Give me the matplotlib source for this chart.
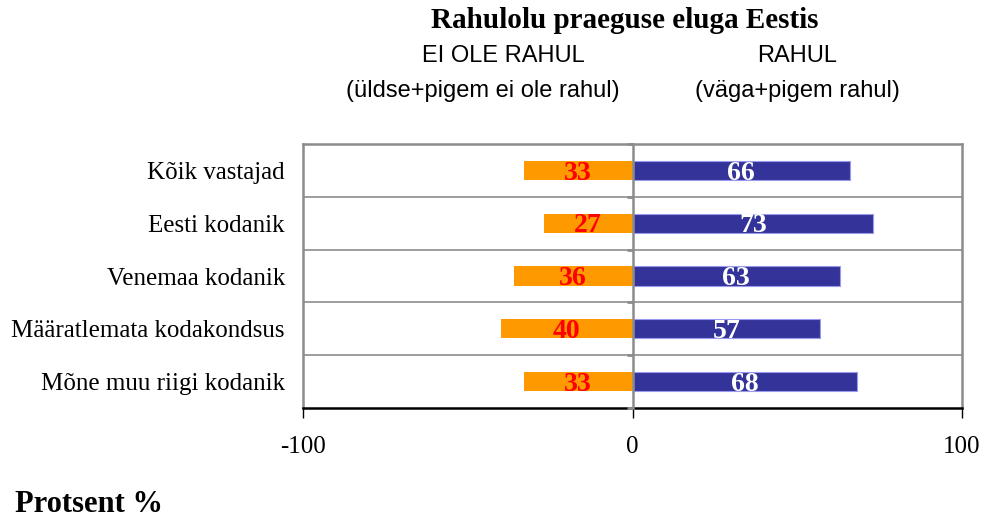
import matplotlib
matplotlib.use("Agg")
import matplotlib.pyplot as plt
import numpy as np

categories = ["Kõik vastajad", "Eesti kodanik", "Venemaa kodanik",
              "Määratlemata kodakondsus", "Mõne muu riigi kodanik"]
not_satisfied = [33, 27, 36, 40, 33]
satisfied = [66, 73, 63, 57, 68]
xticks = [-100, 0, 100]

serif = ["Liberation Serif", "DejaVu Serif"]
sans = ["Liberation Sans", "DejaVu Sans"]

fig = plt.figure(figsize=(9.84, 5.19), dpi=100)
pos = [303/984, 1-408/519, (962-303)/984, (408-144)/519]
ax = fig.add_axes(pos)

y = np.arange(len(categories))
neg = -np.array(not_satisfied)
h = 0.36
ax.barh(y, neg, height=h, color="#FF9900", edgecolor="none", zorder=3)
ax.barh(y, satisfied, height=h, color="#333399", edgecolor="#9999EE", linewidth=0.8, zorder=3)

for yi, n, p in zip(y, not_satisfied, satisfied):
    ax.text(-n/2, yi+0.05, str(n), ha="center", va="center", color="#FF0000",
            fontsize=20, fontweight="bold", family=serif, zorder=4)
    ax.text(p/2, yi+0.05, str(p), ha="center", va="center", color="white",
            fontsize=20, fontweight="bold", family=serif, zorder=4)

ylim = (len(categories)-0.5, -0.5)
ax.set_xlim(-100, 100)
ax.set_ylim(*ylim)
ax.set_yticks(y)
ax.set_yticklabels(categories, family=serif, fontsize=18)
ax.tick_params(axis="y", length=0, pad=13)
ax.set_xticks(xticks)
ax.set_xticklabels([str(t) for t in xticks], family=serif, fontsize=18)
ax.tick_params(axis="x", length=7, width=1, direction="out", pad=13, color="black")

# horizontal gridlines separating categories
for b in np.arange(0.5, len(categories)-0.5, 1.0):
    ax.axhline(b, color="#8c8c8c", lw=1.2, zorder=1)

for s in ["left", "right", "top"]:
    ax.spines[s].set_color("#8c8c8c")
    ax.spines[s].set_linewidth(1.8)
ax.spines["bottom"].set_color("black")
ax.spines["bottom"].set_linewidth(1.8)

# zero axis with small ticks at category boundaries
ax2 = fig.add_axes(pos)
ax2.set_xlim(-100, 100)
ax2.set_ylim(*ylim)
ax2.patch.set_visible(False)
for s in ["right", "top", "bottom"]:
    ax2.spines[s].set_visible(False)
ax2.spines["left"].set_position(("data", 0))
ax2.spines["left"].set_color("#8c8c8c")
ax2.spines["left"].set_linewidth(1.8)
ax2.spines["left"].set_zorder(5)
ax2.set_yticks(np.arange(-0.5, len(categories), 1.0))
ax2.tick_params(axis="y", length=4, width=2, color="#8c8c8c", labelleft=False)
ax2.tick_params(axis="x", bottom=False, labelbottom=False)

fig.text(625/984, 1-20/519, "Rahulolu praeguse eluga Eestis", ha="center", va="center",
         fontsize=21, fontweight="bold", family=serif)
fig.text(503/984, 1-56/519, "EI OLE RAHUL", ha="center", va="center", fontsize=17, family=sans)
fig.text(483/984, 1-91/519, "(üldse+pigem ei ole rahul)", ha="center", va="center", fontsize=17, family=sans)
fig.text(797/984, 1-56/519, "RAHUL", ha="center", va="center", fontsize=17, family=sans)
fig.text(797/984, 1-91/519, "(väga+pigem rahul)", ha="center", va="center", fontsize=17, family=sans)
fig.text(15/984, 1-504/519, "Protsent %", ha="left", va="center", fontsize=22,
         fontweight="bold", family=serif)

fig.savefig("out.png", dpi=100)
